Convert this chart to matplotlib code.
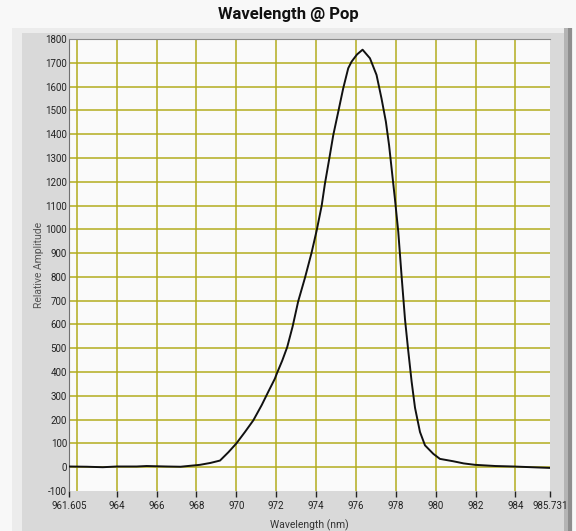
import numpy as np
import matplotlib
matplotlib.use("Agg")
import matplotlib.pyplot as plt
from matplotlib.patches import Rectangle

# spectrum
wavelength = [961.605, 962.5, 963.3, 964.0, 965.0, 965.5, 966.5, 967.2, 968.17, 968.7,
              969.18, 969.6, 970.0, 970.43, 970.85, 971.27, 971.6, 971.93, 972.05, 972.3,
              972.55, 972.82, 973.1, 973.44, 973.77, 974.03, 974.28, 974.44, 974.66, 974.86,
              975.11, 975.36, 975.61, 975.78, 976.05, 976.33, 976.7, 977.03, 977.28, 977.5,
              977.66, 977.86, 977.95, 978.12, 978.29, 978.46, 978.62, 978.79, 978.96, 979.21,
              979.46, 979.88, 980.21, 980.88, 981.4, 981.97, 983.0, 983.9, 984.8, 985.731]
amplitude = [3, 2, 0, 3, 3, 5, 3, 2, 10, 18,
             28, 63, 100, 148, 197, 261, 317, 372, 398, 448,
             505, 591, 697, 796, 901, 996, 1100, 1191, 1297, 1396,
             1494, 1593, 1677, 1705, 1735, 1755, 1719, 1649, 1550, 1452,
             1353, 1199, 1130, 990, 800, 620, 490, 360, 250, 148,
             92, 56, 35, 25, 16, 10, 5, 3, 0, -3]

x_ticks = [961.605, 964, 966, 968, 970, 972, 974, 976, 978, 980, 982, 984, 985.731]
x_labels = ["961.605", "964", "966", "968", "970", "972", "974", "976", "978",
            "980", "982", "984", "985.731"]
x_grid = np.arange(962, 985, 2)
y_ticks = np.arange(-100, 1801, 100)
y_grid = np.arange(0, 1701, 100)

W, H = 576, 531
fig = plt.figure(figsize=(W / 100, H / 100), dpi=100, facecolor="#f8f8f8")

def px_rect(x0, y0, x1, y1, **kw):
    # rectangle given in pixel coords (origin top-left), behind the axes
    fig.patches.append(Rectangle((x0 / W, 1 - y1 / H), (x1 - x0) / W, (y1 - y0) / H,
                                 transform=fig.transFigure, figure=fig, zorder=-5, **kw))

# LabVIEW-like frame
px_rect(12, 28, 573, 531, facecolor="#ececec", edgecolor="none")
px_rect(22, 33, 565, 531, facecolor="#d9d9d9", edgecolor="none")
px_rect(564, 28, 568, 531, facecolor="#b4b4b4", edgecolor="none")
px_rect(568, 28, 572, 531, facecolor="#8e8e8e", edgecolor="none")

ax = fig.add_axes([69 / W, 1 - 491 / H, 481 / W, 452 / H])
ax.set_facecolor("#fafafa")

# olive grid
for gx in x_grid:
    ax.axvline(gx, color="#b3ad1e", lw=1.1, zorder=1)
for gy in y_grid:
    ax.axhline(gy, color="#b3ad1e", lw=1.1, zorder=1)

ax.plot(wavelength, amplitude, color="#111111", lw=1.4, zorder=3)

ax.set_xlim(961.605, 985.731)
ax.set_ylim(-100, 1800)

fam = ["Roboto", "DejaVu Sans"]
ax.set_xticks(x_ticks)
ax.set_xticklabels(x_labels, fontsize=7, family=fam, color="#222222")
ax.set_yticks(y_ticks)
ax.set_yticklabels([str(v) for v in y_ticks], fontsize=7, family=fam, color="#222222")

ax.tick_params(axis="x", direction="out", length=4, width=1, color="#222222", pad=3)
ax.tick_params(axis="y", length=0, pad=1.5)

for side in ["right", "bottom"]:
    ax.spines[side].set_visible(False)
ax.spines["left"].set_color("#707070")
ax.spines["top"].set_color("#8a8a8a")

ax.set_xlabel("Wavelength (nm)", fontsize=7.5, family=fam, color="#333333", labelpad=6)
ax.set_ylabel("Relative Amplitude", fontsize=7.5, family=fam, color="#555555", labelpad=0.5)

fig.text(0.5, 1 - 14 / H, "Wavelength @ Pop", ha="center", va="center",
         fontsize=12, fontweight="bold", family=fam, color="#111111")

fig.savefig("out.png", dpi=100, facecolor=fig.get_facecolor())
